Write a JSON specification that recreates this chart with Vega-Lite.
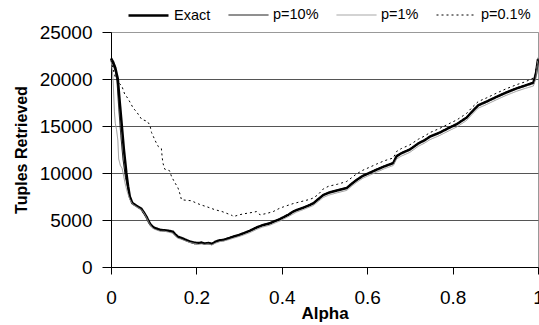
{
"$schema": "https://vega.github.io/schema/vega-lite/v6.json",
"width": 427, "height": 235,
"autosize": {"type": "none"},
"padding": {"left": 111, "top": 32, "right": 1, "bottom": 58},
"background": "white",
"config": {"font": "Liberation Sans", "view": {"stroke": "#999", "strokeWidth": 1}},
"data": {"values": [
{"series":"Exact","alpha":0,"tuples":22200},{"series":"Exact","alpha":0.005,"tuples":21800},{"series":"Exact","alpha":0.01,"tuples":21200},{"series":"Exact","alpha":0.016,"tuples":20000},{"series":"Exact","alpha":0.02,"tuples":17800},{"series":"Exact","alpha":0.025,"tuples":15200},{"series":"Exact","alpha":0.03,"tuples":12600},{"series":"Exact","alpha":0.036,"tuples":10000},{"series":"Exact","alpha":0.04,"tuples":8600},{"series":"Exact","alpha":0.044,"tuples":7500},{"series":"Exact","alpha":0.05,"tuples":6800},{"series":"Exact","alpha":0.06,"tuples":6500},{"series":"Exact","alpha":0.071,"tuples":6200},{"series":"Exact","alpha":0.077,"tuples":5800},{"series":"Exact","alpha":0.083,"tuples":5350},{"series":"Exact","alpha":0.09,"tuples":4700},{"series":"Exact","alpha":0.094,"tuples":4450},{"series":"Exact","alpha":0.1,"tuples":4200},{"series":"Exact","alpha":0.106,"tuples":4100},{"series":"Exact","alpha":0.115,"tuples":3950},{"series":"Exact","alpha":0.126,"tuples":3900},{"series":"Exact","alpha":0.135,"tuples":3850},{"series":"Exact","alpha":0.145,"tuples":3750},{"series":"Exact","alpha":0.15,"tuples":3500},{"series":"Exact","alpha":0.157,"tuples":3200},{"series":"Exact","alpha":0.165,"tuples":3100},{"series":"Exact","alpha":0.176,"tuples":2870},{"series":"Exact","alpha":0.185,"tuples":2700},{"series":"Exact","alpha":0.196,"tuples":2580},{"series":"Exact","alpha":0.205,"tuples":2550},{"series":"Exact","alpha":0.212,"tuples":2600},{"series":"Exact","alpha":0.219,"tuples":2500},{"series":"Exact","alpha":0.228,"tuples":2550},{"series":"Exact","alpha":0.236,"tuples":2450},{"series":"Exact","alpha":0.245,"tuples":2700},{"series":"Exact","alpha":0.255,"tuples":2850},{"series":"Exact","alpha":0.263,"tuples":2870},{"series":"Exact","alpha":0.275,"tuples":3050},{"series":"Exact","alpha":0.286,"tuples":3220},{"series":"Exact","alpha":0.3,"tuples":3400},{"series":"Exact","alpha":0.31,"tuples":3580},{"series":"Exact","alpha":0.325,"tuples":3850},{"series":"Exact","alpha":0.341,"tuples":4200},{"series":"Exact","alpha":0.355,"tuples":4450},{"series":"Exact","alpha":0.372,"tuples":4650},{"series":"Exact","alpha":0.385,"tuples":4900},{"series":"Exact","alpha":0.396,"tuples":5100},{"series":"Exact","alpha":0.404,"tuples":5290},{"series":"Exact","alpha":0.415,"tuples":5550},{"series":"Exact","alpha":0.427,"tuples":5900},{"series":"Exact","alpha":0.435,"tuples":6060},{"series":"Exact","alpha":0.45,"tuples":6300},{"series":"Exact","alpha":0.466,"tuples":6600},{"series":"Exact","alpha":0.474,"tuples":6780},{"series":"Exact","alpha":0.485,"tuples":7200},{"series":"Exact","alpha":0.497,"tuples":7650},{"series":"Exact","alpha":0.51,"tuples":7900},{"series":"Exact","alpha":0.53,"tuples":8150},{"series":"Exact","alpha":0.552,"tuples":8400},{"series":"Exact","alpha":0.565,"tuples":8900},{"series":"Exact","alpha":0.575,"tuples":9250},{"series":"Exact","alpha":0.59,"tuples":9700},{"series":"Exact","alpha":0.605,"tuples":10000},{"series":"Exact","alpha":0.622,"tuples":10350},{"series":"Exact","alpha":0.64,"tuples":10700},{"series":"Exact","alpha":0.661,"tuples":11050},{"series":"Exact","alpha":0.669,"tuples":11800},{"series":"Exact","alpha":0.68,"tuples":12100},{"series":"Exact","alpha":0.7,"tuples":12500},{"series":"Exact","alpha":0.72,"tuples":13150},{"series":"Exact","alpha":0.735,"tuples":13500},{"series":"Exact","alpha":0.747,"tuples":13870},{"series":"Exact","alpha":0.77,"tuples":14300},{"series":"Exact","alpha":0.794,"tuples":14850},{"series":"Exact","alpha":0.81,"tuples":15200},{"series":"Exact","alpha":0.833,"tuples":15900},{"series":"Exact","alpha":0.845,"tuples":16500},{"series":"Exact","alpha":0.86,"tuples":17200},{"series":"Exact","alpha":0.88,"tuples":17600},{"series":"Exact","alpha":0.903,"tuples":18100},{"series":"Exact","alpha":0.925,"tuples":18550},{"series":"Exact","alpha":0.95,"tuples":19000},{"series":"Exact","alpha":0.97,"tuples":19300},{"series":"Exact","alpha":0.989,"tuples":19600},{"series":"Exact","alpha":0.995,"tuples":20500},{"series":"Exact","alpha":1,"tuples":22100},
{"series":"p=10%","alpha":0,"tuples":22100},{"series":"p=10%","alpha":0.005,"tuples":21500},{"series":"p=10%","alpha":0.01,"tuples":20800},{"series":"p=10%","alpha":0.014,"tuples":19800},{"series":"p=10%","alpha":0.018,"tuples":17000},{"series":"p=10%","alpha":0.023,"tuples":14000},{"series":"p=10%","alpha":0.028,"tuples":11500},{"series":"p=10%","alpha":0.034,"tuples":9500},{"series":"p=10%","alpha":0.04,"tuples":8200},{"series":"p=10%","alpha":0.045,"tuples":7300},{"series":"p=10%","alpha":0.05,"tuples":6850},{"series":"p=10%","alpha":0.06,"tuples":6550},{"series":"p=10%","alpha":0.071,"tuples":6150},{"series":"p=10%","alpha":0.077,"tuples":5700},{"series":"p=10%","alpha":0.083,"tuples":5300},{"series":"p=10%","alpha":0.09,"tuples":4650},{"series":"p=10%","alpha":0.094,"tuples":4400},{"series":"p=10%","alpha":0.1,"tuples":4150},{"series":"p=10%","alpha":0.106,"tuples":4000},{"series":"p=10%","alpha":0.115,"tuples":3900},{"series":"p=10%","alpha":0.126,"tuples":3850},{"series":"p=10%","alpha":0.135,"tuples":3800},{"series":"p=10%","alpha":0.145,"tuples":3650},{"series":"p=10%","alpha":0.15,"tuples":3400},{"series":"p=10%","alpha":0.157,"tuples":3150},{"series":"p=10%","alpha":0.165,"tuples":3000},{"series":"p=10%","alpha":0.176,"tuples":2800},{"series":"p=10%","alpha":0.185,"tuples":2650},{"series":"p=10%","alpha":0.196,"tuples":2450},{"series":"p=10%","alpha":0.205,"tuples":2500},{"series":"p=10%","alpha":0.212,"tuples":2550},{"series":"p=10%","alpha":0.219,"tuples":2450},{"series":"p=10%","alpha":0.228,"tuples":2600},{"series":"p=10%","alpha":0.236,"tuples":2500},{"series":"p=10%","alpha":0.245,"tuples":2650},{"series":"p=10%","alpha":0.255,"tuples":2800},{"series":"p=10%","alpha":0.263,"tuples":2900},{"series":"p=10%","alpha":0.275,"tuples":3100},{"series":"p=10%","alpha":0.286,"tuples":3250},{"series":"p=10%","alpha":0.3,"tuples":3450},{"series":"p=10%","alpha":0.31,"tuples":3600},{"series":"p=10%","alpha":0.325,"tuples":3900},{"series":"p=10%","alpha":0.341,"tuples":4250},{"series":"p=10%","alpha":0.355,"tuples":4500},{"series":"p=10%","alpha":0.372,"tuples":4700},{"series":"p=10%","alpha":0.385,"tuples":4950},{"series":"p=10%","alpha":0.396,"tuples":5150},{"series":"p=10%","alpha":0.404,"tuples":5350},{"series":"p=10%","alpha":0.415,"tuples":5600},{"series":"p=10%","alpha":0.427,"tuples":5950},{"series":"p=10%","alpha":0.435,"tuples":6100},{"series":"p=10%","alpha":0.45,"tuples":6350},{"series":"p=10%","alpha":0.466,"tuples":6650},{"series":"p=10%","alpha":0.474,"tuples":6850},{"series":"p=10%","alpha":0.485,"tuples":7250},{"series":"p=10%","alpha":0.497,"tuples":7700},{"series":"p=10%","alpha":0.51,"tuples":7950},{"series":"p=10%","alpha":0.53,"tuples":8200},{"series":"p=10%","alpha":0.552,"tuples":8450},{"series":"p=10%","alpha":0.565,"tuples":8950},{"series":"p=10%","alpha":0.575,"tuples":9300},{"series":"p=10%","alpha":0.59,"tuples":9750},{"series":"p=10%","alpha":0.605,"tuples":10050},{"series":"p=10%","alpha":0.622,"tuples":10400},{"series":"p=10%","alpha":0.64,"tuples":10750},{"series":"p=10%","alpha":0.661,"tuples":11100},{"series":"p=10%","alpha":0.669,"tuples":11850},{"series":"p=10%","alpha":0.68,"tuples":12150},{"series":"p=10%","alpha":0.7,"tuples":12550},{"series":"p=10%","alpha":0.72,"tuples":13200},{"series":"p=10%","alpha":0.735,"tuples":13550},{"series":"p=10%","alpha":0.747,"tuples":13900},{"series":"p=10%","alpha":0.77,"tuples":14350},{"series":"p=10%","alpha":0.794,"tuples":14900},{"series":"p=10%","alpha":0.81,"tuples":15250},{"series":"p=10%","alpha":0.833,"tuples":15950},{"series":"p=10%","alpha":0.845,"tuples":16550},{"series":"p=10%","alpha":0.86,"tuples":17250},{"series":"p=10%","alpha":0.88,"tuples":17650},{"series":"p=10%","alpha":0.903,"tuples":18150},{"series":"p=10%","alpha":0.925,"tuples":18600},{"series":"p=10%","alpha":0.95,"tuples":19050},{"series":"p=10%","alpha":0.97,"tuples":19350},{"series":"p=10%","alpha":0.989,"tuples":19650},{"series":"p=10%","alpha":0.995,"tuples":20600},{"series":"p=10%","alpha":1,"tuples":22200},
{"series":"p=1%","alpha":0,"tuples":22000},{"series":"p=1%","alpha":0.003,"tuples":21000},{"series":"p=1%","alpha":0.005,"tuples":19800},{"series":"p=1%","alpha":0.008,"tuples":16500},{"series":"p=1%","alpha":0.01,"tuples":15300},{"series":"p=1%","alpha":0.013,"tuples":14600},{"series":"p=1%","alpha":0.016,"tuples":13500},{"series":"p=1%","alpha":0.018,"tuples":11500},{"series":"p=1%","alpha":0.022,"tuples":10800},{"series":"p=1%","alpha":0.026,"tuples":10500},{"series":"p=1%","alpha":0.03,"tuples":9600},{"series":"p=1%","alpha":0.033,"tuples":8900},{"series":"p=1%","alpha":0.038,"tuples":8000},{"series":"p=1%","alpha":0.044,"tuples":7200},{"series":"p=1%","alpha":0.05,"tuples":6700},{"series":"p=1%","alpha":0.06,"tuples":6400},{"series":"p=1%","alpha":0.071,"tuples":6100},{"series":"p=1%","alpha":0.077,"tuples":5750},{"series":"p=1%","alpha":0.083,"tuples":5250},{"series":"p=1%","alpha":0.09,"tuples":4600},{"series":"p=1%","alpha":0.094,"tuples":4350},{"series":"p=1%","alpha":0.1,"tuples":4050},{"series":"p=1%","alpha":0.106,"tuples":3950},{"series":"p=1%","alpha":0.115,"tuples":3800},{"series":"p=1%","alpha":0.126,"tuples":3800},{"series":"p=1%","alpha":0.135,"tuples":3700},{"series":"p=1%","alpha":0.145,"tuples":3600},{"series":"p=1%","alpha":0.15,"tuples":3350},{"series":"p=1%","alpha":0.157,"tuples":3050},{"series":"p=1%","alpha":0.165,"tuples":2950},{"series":"p=1%","alpha":0.176,"tuples":2750},{"series":"p=1%","alpha":0.185,"tuples":2600},{"series":"p=1%","alpha":0.196,"tuples":2500},{"series":"p=1%","alpha":0.205,"tuples":2400},{"series":"p=1%","alpha":0.212,"tuples":2450},{"series":"p=1%","alpha":0.219,"tuples":2400},{"series":"p=1%","alpha":0.228,"tuples":2450},{"series":"p=1%","alpha":0.236,"tuples":2350},{"series":"p=1%","alpha":0.245,"tuples":2550},{"series":"p=1%","alpha":0.255,"tuples":2700},{"series":"p=1%","alpha":0.263,"tuples":2750},{"series":"p=1%","alpha":0.275,"tuples":2900},{"series":"p=1%","alpha":0.286,"tuples":3050},{"series":"p=1%","alpha":0.3,"tuples":3250},{"series":"p=1%","alpha":0.31,"tuples":3400},{"series":"p=1%","alpha":0.325,"tuples":3650},{"series":"p=1%","alpha":0.341,"tuples":4000},{"series":"p=1%","alpha":0.355,"tuples":4250},{"series":"p=1%","alpha":0.372,"tuples":4450},{"series":"p=1%","alpha":0.385,"tuples":4700},{"series":"p=1%","alpha":0.396,"tuples":4900},{"series":"p=1%","alpha":0.404,"tuples":5100},{"series":"p=1%","alpha":0.415,"tuples":5350},{"series":"p=1%","alpha":0.427,"tuples":5650},{"series":"p=1%","alpha":0.435,"tuples":5850},{"series":"p=1%","alpha":0.45,"tuples":6100},{"series":"p=1%","alpha":0.466,"tuples":6400},{"series":"p=1%","alpha":0.474,"tuples":6550},{"series":"p=1%","alpha":0.485,"tuples":6950},{"series":"p=1%","alpha":0.497,"tuples":7400},{"series":"p=1%","alpha":0.51,"tuples":7650},{"series":"p=1%","alpha":0.53,"tuples":7900},{"series":"p=1%","alpha":0.552,"tuples":8150},{"series":"p=1%","alpha":0.565,"tuples":8650},{"series":"p=1%","alpha":0.575,"tuples":9000},{"series":"p=1%","alpha":0.59,"tuples":9450},{"series":"p=1%","alpha":0.605,"tuples":9750},{"series":"p=1%","alpha":0.622,"tuples":10100},{"series":"p=1%","alpha":0.64,"tuples":10450},{"series":"p=1%","alpha":0.661,"tuples":10800},{"series":"p=1%","alpha":0.669,"tuples":11500},{"series":"p=1%","alpha":0.68,"tuples":11800},{"series":"p=1%","alpha":0.7,"tuples":12200},{"series":"p=1%","alpha":0.72,"tuples":12850},{"series":"p=1%","alpha":0.735,"tuples":13200},{"series":"p=1%","alpha":0.747,"tuples":13550},{"series":"p=1%","alpha":0.77,"tuples":14000},{"series":"p=1%","alpha":0.794,"tuples":14550},{"series":"p=1%","alpha":0.81,"tuples":14900},{"series":"p=1%","alpha":0.833,"tuples":15600},{"series":"p=1%","alpha":0.845,"tuples":16200},{"series":"p=1%","alpha":0.86,"tuples":16900},{"series":"p=1%","alpha":0.88,"tuples":17300},{"series":"p=1%","alpha":0.903,"tuples":17800},{"series":"p=1%","alpha":0.925,"tuples":18250},{"series":"p=1%","alpha":0.95,"tuples":18700},{"series":"p=1%","alpha":0.97,"tuples":19000},{"series":"p=1%","alpha":0.989,"tuples":19250},{"series":"p=1%","alpha":0.995,"tuples":20000},{"series":"p=1%","alpha":1,"tuples":22300},
{"series":"p=0.1%","alpha":0,"tuples":22000},{"series":"p=0.1%","alpha":0.005,"tuples":21000},{"series":"p=0.1%","alpha":0.01,"tuples":20200},{"series":"p=0.1%","alpha":0.02,"tuples":19500},{"series":"p=0.1%","alpha":0.025,"tuples":19300},{"series":"p=0.1%","alpha":0.032,"tuples":18400},{"series":"p=0.1%","alpha":0.037,"tuples":18100},{"series":"p=0.1%","alpha":0.045,"tuples":17500},{"series":"p=0.1%","alpha":0.052,"tuples":16900},{"series":"p=0.1%","alpha":0.06,"tuples":16500},{"series":"p=0.1%","alpha":0.072,"tuples":15700},{"series":"p=0.1%","alpha":0.085,"tuples":15500},{"series":"p=0.1%","alpha":0.091,"tuples":15100},{"series":"p=0.1%","alpha":0.095,"tuples":14300},{"series":"p=0.1%","alpha":0.099,"tuples":13900},{"series":"p=0.1%","alpha":0.105,"tuples":13300},{"series":"p=0.1%","alpha":0.111,"tuples":12800},{"series":"p=0.1%","alpha":0.118,"tuples":12600},{"series":"p=0.1%","alpha":0.12,"tuples":11600},{"series":"p=0.1%","alpha":0.122,"tuples":11000},{"series":"p=0.1%","alpha":0.126,"tuples":10400},{"series":"p=0.1%","alpha":0.137,"tuples":10250},{"series":"p=0.1%","alpha":0.142,"tuples":9600},{"series":"p=0.1%","alpha":0.148,"tuples":9100},{"series":"p=0.1%","alpha":0.157,"tuples":8400},{"series":"p=0.1%","alpha":0.162,"tuples":7700},{"series":"p=0.1%","alpha":0.165,"tuples":7150},{"series":"p=0.1%","alpha":0.188,"tuples":7050},{"series":"p=0.1%","alpha":0.2,"tuples":6800},{"series":"p=0.1%","alpha":0.211,"tuples":6600},{"series":"p=0.1%","alpha":0.225,"tuples":6400},{"series":"p=0.1%","alpha":0.243,"tuples":6100},{"series":"p=0.1%","alpha":0.26,"tuples":5900},{"series":"p=0.1%","alpha":0.283,"tuples":5500},{"series":"p=0.1%","alpha":0.286,"tuples":5350},{"series":"p=0.1%","alpha":0.3,"tuples":5550},{"series":"p=0.1%","alpha":0.31,"tuples":5650},{"series":"p=0.1%","alpha":0.33,"tuples":5800},{"series":"p=0.1%","alpha":0.341,"tuples":5900},{"series":"p=0.1%","alpha":0.349,"tuples":5550},{"series":"p=0.1%","alpha":0.365,"tuples":5700},{"series":"p=0.1%","alpha":0.38,"tuples":5900},{"series":"p=0.1%","alpha":0.395,"tuples":6250},{"series":"p=0.1%","alpha":0.404,"tuples":6400},{"series":"p=0.1%","alpha":0.42,"tuples":6650},{"series":"p=0.1%","alpha":0.427,"tuples":6750},{"series":"p=0.1%","alpha":0.44,"tuples":6900},{"series":"p=0.1%","alpha":0.466,"tuples":7200},{"series":"p=0.1%","alpha":0.474,"tuples":7350},{"series":"p=0.1%","alpha":0.485,"tuples":7700},{"series":"p=0.1%","alpha":0.497,"tuples":8300},{"series":"p=0.1%","alpha":0.51,"tuples":8600},{"series":"p=0.1%","alpha":0.53,"tuples":8800},{"series":"p=0.1%","alpha":0.552,"tuples":9100},{"series":"p=0.1%","alpha":0.565,"tuples":9550},{"series":"p=0.1%","alpha":0.575,"tuples":9900},{"series":"p=0.1%","alpha":0.59,"tuples":10300},{"series":"p=0.1%","alpha":0.605,"tuples":10600},{"series":"p=0.1%","alpha":0.622,"tuples":10950},{"series":"p=0.1%","alpha":0.64,"tuples":11300},{"series":"p=0.1%","alpha":0.661,"tuples":11600},{"series":"p=0.1%","alpha":0.669,"tuples":12300},{"series":"p=0.1%","alpha":0.68,"tuples":12600},{"series":"p=0.1%","alpha":0.7,"tuples":13000},{"series":"p=0.1%","alpha":0.72,"tuples":13600},{"series":"p=0.1%","alpha":0.735,"tuples":13950},{"series":"p=0.1%","alpha":0.747,"tuples":14300},{"series":"p=0.1%","alpha":0.77,"tuples":14750},{"series":"p=0.1%","alpha":0.794,"tuples":15300},{"series":"p=0.1%","alpha":0.81,"tuples":15650},{"series":"p=0.1%","alpha":0.833,"tuples":16350},{"series":"p=0.1%","alpha":0.845,"tuples":16950},{"series":"p=0.1%","alpha":0.86,"tuples":17600},{"series":"p=0.1%","alpha":0.88,"tuples":18000},{"series":"p=0.1%","alpha":0.903,"tuples":18500},{"series":"p=0.1%","alpha":0.925,"tuples":18950},{"series":"p=0.1%","alpha":0.95,"tuples":19400},{"series":"p=0.1%","alpha":0.97,"tuples":19700},{"series":"p=0.1%","alpha":0.989,"tuples":20100},{"series":"p=0.1%","alpha":0.993,"tuples":20500},{"series":"p=0.1%","alpha":1,"tuples":22200}
]},
"mark": {"type": "line"},
"encoding": {
"x": {"field": "alpha", "type": "quantitative", "scale": {"domain": [0, 1], "nice": false},
 "axis": {"values": [0, 0.2, 0.4, 0.6, 0.8, 1], "format": "~g", "grid": false, "title": "Alpha",
  "titleFontSize": 17, "titleFontWeight": "bold", "titleColor": "black", "titlePadding": -2,
  "labelFontSize": 19, "labelColor": "black", "labelPadding": 14, "labelFlush": false, "labelOverlap": false,
  "tickSize": 7, "tickColor": "black", "domainColor": "black"}},
"y": {"field": "tuples", "type": "quantitative", "scale": {"domain": [0, 25000], "nice": false},
 "axis": {"values": [0, 5000, 10000, 15000, 20000, 25000], "format": "d", "grid": true,
  "gridColor": {"condition": {"test": "datum.value === 25000", "value": "#999"}, "value": "#555"},
  "title": "Tuples Retrieved", "titleFontSize": 16, "titleFontWeight": "bold", "titleColor": "black", "titlePadding": 10,
  "labelFontSize": 19, "labelColor": "black", "labelPadding": 10, "labelOverlap": false,
  "tickSize": 9, "tickColor": "black", "domainColor": "black"}},
"color": {"field": "series", "type": "nominal", "scale": {"domain": ["Exact", "p=10%", "p=1%", "p=0.1%"], "range": ["black", "black", "#9a9a9a", "black"]},
 "legend": {"orient": "none", "legendX": 16, "legendY": -38, "direction": "horizontal", "title": null, "symbolType": "stroke", "symbolSize": 1600, "labelFontSize": 14.5, "labelColor": "black", "labelOffset": 4, "columnPadding": 15}},
"strokeWidth": {"field": "series", "type": "nominal", "scale": {"type": "ordinal", "domain": ["Exact", "p=10%", "p=1%", "p=0.1%"], "range": [2.5, 1, 1, 1]},
 "legend": {"orient": "none", "legendX": 16, "legendY": -38, "direction": "horizontal", "title": null, "symbolType": "stroke", "symbolSize": 1600, "labelFontSize": 14.5, "labelColor": "black", "labelOffset": 4, "columnPadding": 15}},
"strokeDash": {"field": "series", "type": "nominal", "scale": {"domain": ["Exact", "p=10%", "p=1%", "p=0.1%"], "range": [[1, 0], [1, 0], [1, 0], [2, 3]]},
 "legend": {"orient": "none", "legendX": 16, "legendY": -38, "direction": "horizontal", "title": null, "symbolType": "stroke", "symbolSize": 1600, "labelFontSize": 14.5, "labelColor": "black", "labelOffset": 4, "columnPadding": 15}}
}
}
